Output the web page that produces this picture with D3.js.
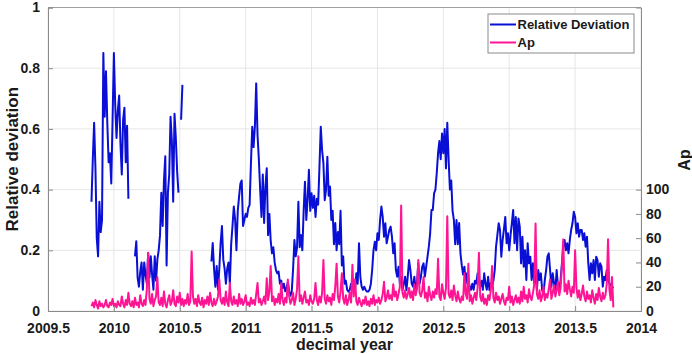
<!DOCTYPE html>
<html>
<head>
<meta charset="utf-8">
<script src="https://cdn.jsdelivr.net/npm/d3@7"></script>
<style>
    body { margin: 0; background: #fff; }
    text { font-family: "Liberation Sans", Arial, sans-serif; font-weight: bold; fill: #1a1a1a; }
</style>
</head>
<body>
<div id="chart"></div>
<script>
// samples every 0.01 year starting at 2009.83 (null = no data)
const startYear = 2009.83;
const stepYear = 0.01;

const relDev = [
    .36, .50, .62, .47, .24, .18, .36, .26, .30, .85,
    .64, .79, .62, .49, .52, .42, .63, .85, .68, .57,
    .66, .71, .55, .45, .63, .67, .49, .61, .37, null,
    null, null, null, .18, .23, .11, .08, .13, .16, .07,
    .16, .12, .09, .19, .11, .18, .12, .07, .18, .10,
    .17, .20, .25, .39, .28, .43, .51, .15, .39, .45,
    .64, .56, .36, .65, .57, .46, .39, null, .63, .745,
    null, null, null, null, null, null, null, null, null, null,
    null, null, null, null, null, null, null, null, null, null,
    null, .163, .224, .14, .08, .148, .07, .14, .224, .28,
    .17, .14, .09, .14, .16, .09, .22, .28, .344, .30,
    .20, .33, .377, .42, .43, .28, .30, .32, .31, .34,
    .35, .487, .607, .54, .607, .75, .58, .50, .40, .31,
    .45, .29, .41, .47, .25, .32, .23, .19, .21, .16,
    .135, .124, .13, .09, .10, .075, .09, .065, .075, .095,
    .065, .05, .065, .14, .234, .18, .21, .36, .21, .25,
    .20, .33, .426, .30, .366, .465, .33, .388, .34, .38,
    .31, .37, .35, .475, .607, .53, .487, .365, .40, .508,
    .38, .41, .30, .33, .22, .29, .20, .26, .22, .33,
    .15, .18, .09, .10, .07, .064, .07, .09, .07, .10,
    .07, .124, .09, .223, .113, .08, .07, .08, .07, .064,
    .064, .07, .09, .135, .20, .228, .20, .256, .234, .30,
    .344, .31, .245, .289, .223, .245, .267, .278, .245, .19,
    .223, .135, .113, .146, .09, .113, .069, .09, .113, .069,
    .113, .168, .135, .09, .08, .113, .069, .09, .157, .09,
    .113, .146, .157, .113, .146, .179, .212, .256, .333, .333,
    .388, .40, .454, .52, .56, .50, .585, .52, .60, .47,
    .62, .50, .40, .43, .33, .30, .22, .30, .22, .29,
    .19, .15, .12, .146, .09, .124, .10, .08, .07, .09,
    .07, .10, .09, .124, .10, .08, .10, .07, .124, .09,
    .07, .113, .069, .091, .08, .10, .135, .212, .25, .289,
    .267, .179, .234, .27, .31, .223, .256, .20, .25, .289,
    .333, .223, .31, .20, .305, .278, .157, .245, .146, .20,
    .102, .223, .157, .179, .102, .157, .091, .124, .069, .135,
    .102, .124, .069, .058, .102, .135, .179, .19, .135, .08,
    .124, .091, .069, .135, .08, .069, .102, .157, .212, .234,
    .20, .223, .19, .234, .267, .289, .327, .31, .256, .289,
    .245, .267, .267, .234, .256, .212, .245, .157, .102, .157,
    .124, .168, .102, .179, .168, .113, .157, .146, .08, .113,
    .102, .135, .102, .091, .086, .08, .075
];

const apIndex = [
    4, 7, 3, 9, 5, 2, 8, 4, 6, 3,
    5, 9, 4, 3, 7, 5, 10, 4, 6, 3,
    8, 5, 4, 12, 6, 3, 9, 5, 15, 6,
    4, 8, 3, 11, 5, 7, 3, 13, 6, 4,
    9, 5, 18, 48, 10, 6, 14, 4, 9, 12,
    28, 7, 5, 11, 4, 16, 6, 3, 9, 13,
    5, 8, 17, 6, 4, 12, 7, 15, 5, 10,
    4, 9, 6, 14, 5, 8, 49, 12, 6, 10,
    4, 13, 7, 5, 11, 3, 9, 6, 12, 5,
    15, 7, 4, 10, 5, 8, 12, 26, 9, 6,
    11, 5, 16, 7, 4, 23, 8, 5, 12, 6,
    9, 4, 14, 6, 10, 5, 8, 13, 5, 7,
    4, 11, 6, 9, 5, 14, 23, 7, 10, 5,
    8, 12, 6, 27, 9, 16, 37, 8, 12, 5,
    10, 7, 14, 6, 23, 9, 5, 11, 7, 26,
    12, 6, 9, 15, 5, 10, 18, 45, 8, 13,
    6, 11, 16, 7, 9, 5, 13, 8, 6, 10,
    23, 9, 5, 12, 7, 15, 42, 10, 6, 13,
    8, 11, 5, 14, 9, 20, 39, 12, 7, 16,
    31, 10, 6, 13, 5, 9, 15, 7, 38, 12,
    26, 8, 5, 11, 7, 4, 9, 6, 12, 5,
    8, 4, 10, 6, 13, 5, 9, 7, 11, 6,
    9, 14, 24, 8, 11, 17, 10, 13, 9, 22,
    12, 16, 9, 14, 20, 87, 15, 11, 17, 10,
    14, 19, 11, 16, 9, 22, 13, 18, 42, 15,
    12, 17, 28, 11, 15, 8, 20, 13, 9, 16,
    11, 18, 14, 43, 12, 9, 22, 15, 10, 19,
    78, 14, 11, 17, 9, 21, 13, 8, 16, 10,
    7, 12, 9, 31, 14, 10, 39, 8, 13, 6,
    11, 15, 9, 19, 48, 12, 8, 14, 6, 10,
    5, 13, 9, 17, 37, 11, 7, 15, 9, 12,
    6, 10, 14, 8, 5, 11, 9, 20, 7, 12,
    5, 9, 13, 7, 11, 6, 16, 8, 20, 10,
    13, 7, 18, 11, 9, 15, 22, 72, 14, 10,
    17, 8, 12, 20, 9, 14, 11, 18, 26, 10,
    15, 21, 12, 17, 24, 13, 19, 37, 59, 16,
    22, 14, 25, 18, 12, 20, 15, 50, 19, 11,
    17, 9, 14, 21, 12, 8, 16, 10, 13, 7,
    17, 11, 6, 14, 9, 19, 12, 8, 15, 10,
    13, 22, 59, 18, 9, 28, 3
];

const yearTicks = [2009.5, 2010, 2010.5, 2011, 2011.5, 2012, 2012.5, 2013, 2013.5, 2014];
const relTicks = [0, 0.2, 0.4, 0.6, 0.8, 1];
const apTicks = [0, 20, 40, 60, 80, 100];
const seriesNames = ["Relative Deviation", "Ap"];
const seriesColors = ["#0a0fd6", "#ff1493"];

const width = 692, height = 354;
const margin = { top: 7.5, right: 51, bottom: 43, left: 48 };
const plotW = width - margin.left - margin.right;
const plotH = height - margin.top - margin.bottom;

const svg = d3.select("#chart").append("svg")
    .attr("width", width)
    .attr("height", height);

const g = svg.append("g")
    .attr("transform", `translate(${margin.left},${margin.top})`);

const x = d3.scaleLinear().domain([2009.5, 2014]).range([0, plotW]);
const yRel = d3.scaleLinear().domain([0, 1]).range([plotH, 0]);
const yAp = d3.scaleLinear().domain([0, 250]).range([plotH, 0]);

const relData = relDev.map((v, i) => ({ t: startYear + i * stepYear, v: v }));
const apData = apIndex.map((v, i) => ({ t: startYear + i * stepYear, v: v }));

// grid
g.append("g")
    .selectAll("line.vgrid")
    .data(yearTicks)
    .join("line")
    .attr("x1", d => x(d)).attr("x2", d => x(d))
    .attr("y1", 0).attr("y2", plotH)
    .attr("stroke", "#e6e6e6").attr("stroke-width", 1);

g.append("g")
    .selectAll("line.hgrid")
    .data(relTicks)
    .join("line")
    .attr("x1", 0).attr("x2", plotW)
    .attr("y1", d => yRel(d)).attr("y2", d => yRel(d))
    .attr("stroke", "#e6e6e6").attr("stroke-width", 1);

// box top line
g.append("line")
    .attr("x1", 0).attr("x2", plotW)
    .attr("y1", 0).attr("y2", 0)
    .attr("stroke", "#a0a0a0");

// lines
const relLine = d3.line()
    .defined(d => d.v != null)
    .x(d => x(d.t))
    .y(d => yRel(d.v));

const apLine = d3.line()
    .x(d => x(d.t))
    .y(d => yAp(d.v));

g.append("path")
    .datum(relData)
    .attr("fill", "none")
    .attr("stroke", seriesColors[0])
    .attr("stroke-width", 2)
    .attr("stroke-linejoin", "round")
    .attr("d", relLine);

g.append("path")
    .datum(apData)
    .attr("fill", "none")
    .attr("stroke", seriesColors[1])
    .attr("stroke-width", 2)
    .attr("stroke-linejoin", "round")
    .attr("d", apLine);

// axes
const xAxis = g.append("g")
    .attr("transform", `translate(0,${plotH})`)
    .call(d3.axisBottom(x).tickValues(yearTicks).tickFormat(d => String(d))
        .tickSize(-5).tickPadding(12));

const yAxisL = g.append("g")
    .call(d3.axisLeft(yRel).tickValues(relTicks).tickFormat(d => String(d))
        .tickSize(-5).tickPadding(8));

const yAxisR = g.append("g")
    .attr("transform", `translate(${plotW},0)`)
    .call(d3.axisRight(yAp).tickValues(apTicks).tickFormat(d => String(d))
        .tickSize(-5).tickPadding(5));

[xAxis, yAxisL, yAxisR].forEach(a => {
    a.select(".domain").attr("stroke", "#8a8a8a");
    a.selectAll(".tick line").attr("stroke", "#8a8a8a");
    a.selectAll(".tick text")
        .style("font-size", "14px")
        .style("font-family", "'Liberation Sans', Arial, sans-serif")
        .style("font-weight", "bold")
        .attr("fill", "#1a1a1a");
});
yAxisL.selectAll(".tick text").attr("dy", "0.3em");
yAxisR.selectAll(".tick text").attr("dy", "0.3em");

// axis titles
svg.append("text")
    .attr("x", margin.left + plotW / 2)
    .attr("y", 350)
    .attr("text-anchor", "middle")
    .style("font-size", "16px")
    .text("decimal year");

svg.append("text")
    .attr("transform", `translate(18,${margin.top + plotH / 2}) rotate(-90)`)
    .attr("text-anchor", "middle")
    .style("font-size", "17px")
    .text("Relative deviation");

svg.append("text")
    .attr("transform", `translate(690,160) rotate(-90)`)
    .attr("text-anchor", "middle")
    .style("font-size", "16px")
    .text("Ap");

// legend
const legend = svg.append("g").attr("transform", "translate(488,14)");
legend.append("rect")
    .attr("width", 146).attr("height", 39)
    .attr("fill", "#fff")
    .attr("stroke", "#8a8a8a");

seriesNames.forEach((name, i) => {
    const ly = 10.5 + i * 18;
    legend.append("line")
        .attr("x1", 2).attr("x2", 28)
        .attr("y1", ly).attr("y2", ly)
        .attr("stroke", seriesColors[i])
        .attr("stroke-width", 2);
    legend.append("text")
        .attr("x", 29.5)
        .attr("y", ly)
        .attr("dy", "0.36em")
        .style("font-size", "13px")
        .text(name);
});
</script>
</body>
</html>
